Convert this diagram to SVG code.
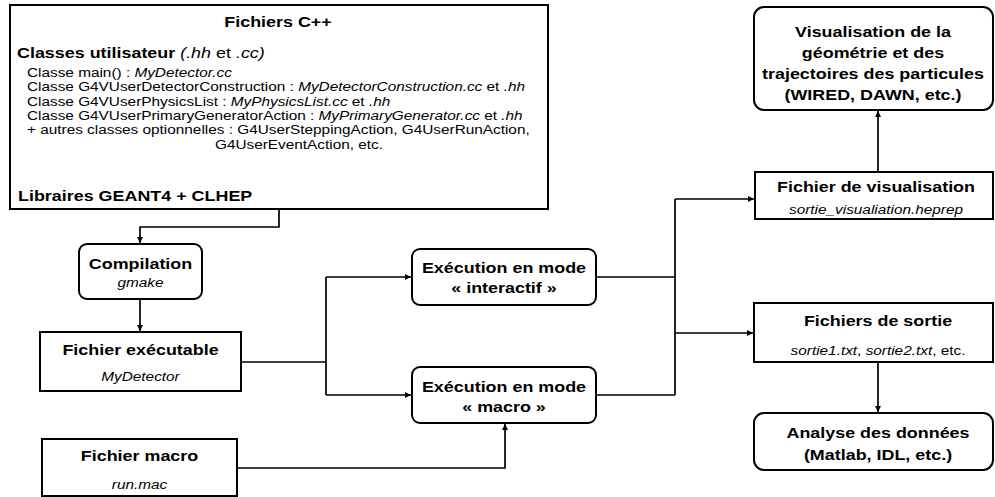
<svg xmlns="http://www.w3.org/2000/svg" width="995" height="497" viewBox="0 0 995 497">
<style>
text { font-family: "Liberation Sans", Arial, Helvetica, sans-serif; fill: #000; }
.c { text-anchor: middle; }
.l { text-anchor: start; }
.b { font-weight: bold; font-size: 14px; }
.r { font-size: 12px; }
.i { font-style: italic; }
.box { fill: #fff; stroke: #000; stroke-width: 2; }
.edge { fill: none; stroke: #000; stroke-width: 1.7; }
</style>
<defs>
<marker id="arr" viewBox="0 0 10 10" refX="10" refY="5" markerWidth="6" markerHeight="6" markerUnits="userSpaceOnUse" orient="auto">
<path d="M0,0 L10,5 L0,10 z" fill="#000"/>
</marker>
</defs>
<rect width="995" height="497" fill="#fff"/>

<g id="connectors">
<path class="edge" d="M279,209 V227 H140 V243" marker-end="url(#arr)"/>
<path class="edge" d="M140,299 V331" marker-end="url(#arr)"/>
<path class="edge" d="M241,362 H326"/>
<path class="edge" d="M326,277 V395"/>
<path class="edge" d="M326,277 H411" marker-end="url(#arr)"/>
<path class="edge" d="M326,395 H411" marker-end="url(#arr)"/>
<path class="edge" d="M237,468 H505 V424" marker-end="url(#arr)"/>
<path class="edge" d="M596,277 H675"/>
<path class="edge" d="M596,395 H675"/>
<path class="edge" d="M675,199 V395"/>
<path class="edge" d="M675,199 H754" marker-end="url(#arr)"/>
<path class="edge" d="M675,333 H753" marker-end="url(#arr)"/>
<path class="edge" d="M878,172 V111" marker-end="url(#arr)"/>
<path class="edge" d="M878,362 V412" marker-end="url(#arr)"/>
</g>

<g id="fichiers-cpp">
<rect class="box" x="10" y="5" width="538" height="204"/>
<text class="b c" transform="translate(278 27) scale(1.28 1)">Fichiers C++</text>
<text class="l" transform="translate(17 58) scale(1.28 1)"><tspan class="b">Classes utilisateur</tspan><tspan style="font-size:14px"> <tspan class="i">(.hh</tspan> et <tspan class="i">.cc)</tspan></tspan></text>
<text class="r l" transform="translate(27 77) scale(1.28 1)">Classe main() : <tspan class="i">MyDetector.cc</tspan></text>
<text class="r l" transform="translate(27 91) scale(1.28 1)">Classe G4VUserDetectorConstruction : <tspan class="i">MyDetectorConstruction.cc</tspan> et <tspan class="i">.hh</tspan></text>
<text class="r l" transform="translate(27 106) scale(1.28 1)">Classe G4VUserPhysicsList : <tspan class="i">MyPhysicsList.cc</tspan> et <tspan class="i">.hh</tspan></text>
<text class="r l" transform="translate(27 120) scale(1.28 1)">Classe G4VUserPrimaryGeneratorAction : <tspan class="i">MyPrimaryGenerator.cc</tspan> et <tspan class="i">.hh</tspan></text>
<text class="r l" transform="translate(27 134) scale(1.28 1)">+ autres classes optionnelles : G4UserSteppingAction, G4UserRunAction,</text>
<text class="r l" transform="translate(215 149) scale(1.28 1)">G4UserEventAction, etc.</text>
<text class="b l" transform="translate(18 201) scale(1.28 1)">Libraires GEANT4 + CLHEP</text>
</g>

<g id="compilation">
<rect class="box" x="79" y="244" width="123" height="55" rx="8"/>
<text class="b c" transform="translate(140.5 269) scale(1.28 1)">Compilation</text>
<text class="r i c" transform="translate(140.5 287) scale(1.28 1)">gmake</text>
</g>

<g id="executable">
<rect class="box" x="40" y="332" width="201" height="59"/>
<text class="b c" transform="translate(140.5 355) scale(1.28 1)">Fichier exécutable</text>
<text class="r i c" transform="translate(140.5 381) scale(1.28 1)">MyDetector</text>
</g>

<g id="macro-file">
<rect class="box" x="42" y="439" width="195" height="57"/>
<text class="b c" transform="translate(139.5 461) scale(1.28 1)">Fichier macro</text>
<text class="r i c" transform="translate(139.5 489) scale(1.28 1)">run.mac</text>
</g>

<g id="exec-interactif">
<rect class="box" x="412" y="249" width="184" height="56" rx="8"/>
<text class="b c" transform="translate(504 273) scale(1.28 1)">Exécution en mode</text>
<text class="b c" transform="translate(504 293) scale(1.28 1)">« interactif »</text>
</g>

<g id="exec-macro">
<rect class="box" x="412" y="367" width="184" height="56" rx="8"/>
<text class="b c" transform="translate(504 392) scale(1.28 1)">Exécution en mode</text>
<text class="b c" transform="translate(504 412) scale(1.28 1)">« macro »</text>
</g>

<g id="visualisation">
<rect class="box" x="754" y="7" width="239" height="103" rx="10"/>
<text class="b c" transform="translate(873 37) scale(1.28 1)">Visualisation de la</text>
<text class="b c" transform="translate(873 58) scale(1.28 1)">géométrie et des</text>
<text class="b c" transform="translate(873 79) scale(1.28 1)">trajectoires des particules</text>
<text class="b c" transform="translate(873 100) scale(1.28 1)">(WIRED, DAWN, etc.)</text>
</g>

<g id="fichier-visualisation">
<rect class="box" x="755" y="172" width="238" height="47"/>
<text class="b c" transform="translate(876 192) scale(1.28 1)">Fichier de visualisation</text>
<text class="r i c" transform="translate(876 214) scale(1.28 1)">sortie_visualiation.heprep</text>
</g>

<g id="fichiers-sortie">
<rect class="box" x="754" y="303" width="239" height="59"/>
<text class="b c" transform="translate(878 326) scale(1.28 1)">Fichiers de sortie</text>
<text class="r c" transform="translate(878 355) scale(1.28 1)"><tspan class="i">sortie1.txt</tspan>, <tspan class="i">sortie2.txt</tspan>, etc.</text>
</g>

<g id="analyse">
<rect class="box" x="754" y="413" width="239" height="57" rx="10"/>
<text class="b c" transform="translate(878 438) scale(1.28 1)">Analyse des données</text>
<text class="b c" transform="translate(878 460) scale(1.28 1)">(Matlab, IDL, etc.)</text>
</g>
</svg>
